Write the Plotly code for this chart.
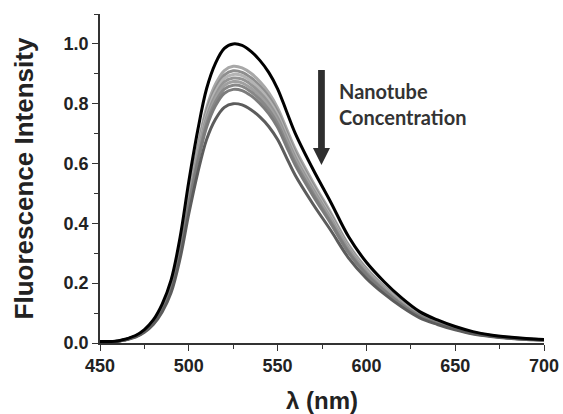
import plotly.graph_objects as go

wavelength = [450, 460, 470, 475, 480, 485, 490, 495, 500, 505, 510, 515, 520, 525, 530,
              535, 540, 545, 550, 555, 560, 570, 580, 590, 600, 610, 620, 630, 640, 650,
              660, 670, 680, 690, 700]

no_nanotube = [0.005, 0.007, 0.025, 0.045, 0.077, 0.130, 0.210, 0.350, 0.540, 0.710, 0.850,
               0.935, 0.985, 1.000, 0.995, 0.975, 0.945, 0.905, 0.850, 0.775, 0.700, 0.580,
               0.470, 0.355, 0.270, 0.205, 0.150, 0.105, 0.077, 0.055, 0.038, 0.027, 0.020,
               0.015, 0.012]
conc_1 = [0.005, 0.006, 0.023, 0.042, 0.071, 0.120, 0.194, 0.324, 0.500, 0.657, 0.786, 0.865,
          0.911, 0.925, 0.920, 0.902, 0.874, 0.837, 0.786, 0.717, 0.648, 0.537, 0.435, 0.328,
          0.250, 0.190, 0.139, 0.097, 0.071, 0.051, 0.035, 0.025, 0.019, 0.014, 0.011]
conc_2 = [0.005, 0.006, 0.023, 0.041, 0.070, 0.118, 0.191, 0.319, 0.491, 0.646, 0.774, 0.851,
          0.896, 0.910, 0.905, 0.887, 0.860, 0.824, 0.774, 0.705, 0.637, 0.528, 0.428, 0.323,
          0.246, 0.187, 0.137, 0.096, 0.070, 0.050, 0.035, 0.025, 0.018, 0.014, 0.011]
conc_3 = [0.005, 0.006, 0.022, 0.040, 0.069, 0.117, 0.189, 0.314, 0.485, 0.638, 0.763, 0.840,
          0.885, 0.898, 0.894, 0.876, 0.849, 0.813, 0.763, 0.696, 0.629, 0.521, 0.422, 0.319,
          0.242, 0.184, 0.135, 0.094, 0.069, 0.049, 0.034, 0.024, 0.018, 0.013, 0.011]
conc_4 = [0.004, 0.006, 0.022, 0.040, 0.068, 0.115, 0.186, 0.310, 0.478, 0.629, 0.753, 0.828,
          0.873, 0.886, 0.882, 0.864, 0.837, 0.802, 0.753, 0.687, 0.620, 0.514, 0.416, 0.315,
          0.239, 0.182, 0.133, 0.093, 0.068, 0.049, 0.034, 0.024, 0.018, 0.013, 0.011]
conc_5 = [0.004, 0.006, 0.022, 0.039, 0.067, 0.114, 0.184, 0.306, 0.472, 0.621, 0.743, 0.817,
          0.861, 0.874, 0.870, 0.852, 0.826, 0.791, 0.743, 0.677, 0.612, 0.507, 0.411, 0.310,
          0.236, 0.179, 0.131, 0.092, 0.067, 0.048, 0.033, 0.024, 0.017, 0.013, 0.010]
conc_6 = [0.004, 0.006, 0.022, 0.039, 0.066, 0.112, 0.181, 0.302, 0.465, 0.612, 0.733, 0.806,
          0.849, 0.862, 0.858, 0.840, 0.815, 0.780, 0.733, 0.668, 0.603, 0.500, 0.405, 0.306,
          0.233, 0.177, 0.129, 0.091, 0.066, 0.047, 0.033, 0.023, 0.017, 0.013, 0.010]
conc_7 = [0.004, 0.006, 0.021, 0.038, 0.065, 0.110, 0.178, 0.297, 0.458, 0.602, 0.721, 0.793,
          0.835, 0.848, 0.844, 0.827, 0.801, 0.767, 0.721, 0.657, 0.594, 0.492, 0.399, 0.301,
          0.229, 0.174, 0.127, 0.089, 0.065, 0.047, 0.032, 0.023, 0.017, 0.013, 0.010]
conc_8 = [0.004, 0.006, 0.020, 0.036, 0.062, 0.104, 0.168, 0.280, 0.432, 0.568, 0.680, 0.748,
          0.788, 0.800, 0.796, 0.780, 0.756, 0.724, 0.680, 0.620, 0.560, 0.464, 0.376, 0.284,
          0.216, 0.164, 0.120, 0.084, 0.062, 0.044, 0.030, 0.022, 0.016, 0.012, 0.010]

grey_series = [conc_1, conc_2, conc_3, conc_4, conc_5, conc_6, conc_7]
grey_colors = ["#a8a8a8", "#8e8e8e", "#b4b4b4", "#959595", "#a0a0a0", "#888888", "#7c7c7c"]

x_ticks = [450, 500, 550, 600, 650, 700]
y_ticks = [0.0, 0.2, 0.4, 0.6, 0.8, 1.0]

fig = go.Figure()
for ys, col in zip(grey_series, grey_colors):
    fig.add_trace(go.Scatter(x=wavelength, y=ys, mode="lines",
                             line=dict(color=col, width=3, shape="spline"),
                             showlegend=False, hoverinfo="skip"))
fig.add_trace(go.Scatter(x=wavelength, y=conc_8, mode="lines",
                         line=dict(color="#5c5c5c", width=3, shape="spline"),
                         showlegend=False, hoverinfo="skip"))
fig.add_trace(go.Scatter(x=wavelength, y=no_nanotube, mode="lines",
                         line=dict(color="#000000", width=3, shape="spline"),
                         showlegend=False, hoverinfo="skip"))

axis_font = dict(family="Liberation Sans, Arial, sans-serif", size=18, color="#222222", weight="bold")

fig.update_layout(
    width=563, height=414,
    margin=dict(l=100, r=19, t=14, b=71),
    paper_bgcolor="white", plot_bgcolor="white",
    xaxis=dict(range=[450, 700], tickvals=x_ticks, ticktext=[str(v) for v in x_ticks],
               automargin=False,
               showline=True, linecolor="#333333", linewidth=1.5,
               ticks="outside", ticklen=6, tickwidth=1.3, tickcolor="#333333",
               ticklabeloverflow="allow",
               minor=dict(dtick=25, tick0=450, ticks="outside", ticklen=4, tickcolor="#333333", tickwidth=1.2),
               showgrid=False, zeroline=False, tickfont=axis_font,
               title=dict(text="λ (nm)", standoff=18,
                          font=dict(family="Liberation Sans, Arial, sans-serif", size=24, color="#222222", weight="bold"))),
    yaxis=dict(range=[0, 1.1], tickvals=y_ticks, ticktext=[f"{v:.1f}" for v in y_ticks],
               automargin=False,
               showline=True, linecolor="#333333", linewidth=1.5,
               ticks="outside", ticklen=6, tickwidth=1.3, tickcolor="#333333",
               ticklabeloverflow="allow",
               minor=dict(dtick=0.1, tick0=0, ticks="outside", ticklen=4, tickcolor="#333333", tickwidth=1.2),
               showgrid=False, zeroline=False, tickfont=axis_font,
               title=dict(text="Fluorescence Intensity", standoff=23,
                          font=dict(family="Liberation Sans, Arial, sans-serif", size=26, color="#222222", weight="bold"))),
)

# downward arrow indicating increasing nanotube concentration
fig.add_shape(type="path", xref="x", yref="y",
              path="M 572.8,0.913 L 576.6,0.913 L 576.6,0.652 L 579.5,0.652 L 574.7,0.595 L 569.9,0.652 L 572.8,0.652 Z",
              fillcolor="#2e2e2e", line=dict(width=0))

fig.add_annotation(x=583.5, y=0.80, xref="x", yref="y", xanchor="left", yanchor="middle",
                   text="Nanotube<br>Concentration", showarrow=False, align="left",
                   font=dict(family="Lato, Open Sans, sans-serif", size=20, color="#333333", weight="bold"))

fig.write_html("out.html",
               config={"displayModeBar": False},
               post_script="document.body.style.margin='0px';document.body.style.overflow='hidden';")
